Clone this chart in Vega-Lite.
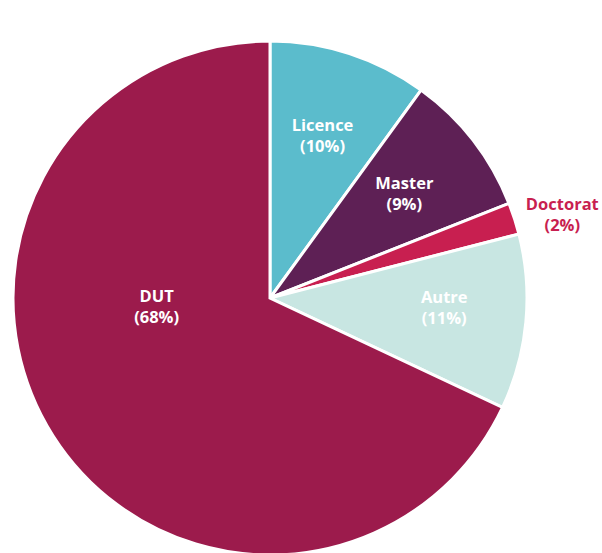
{
  "$schema": "https://vega.github.io/schema/vega-lite/v6.json",
  "width": 540,
  "height": 596,
  "padding": {"left": 0, "top": 0, "right": 62, "bottom": 0},
  "autosize": "none",
  "background": "white",
  "view": {"stroke": null},
  "data": {
    "values": [
      {"categorie": "Licence", "ordre": 1, "pct": 10, "label": "Licence\n(10%)"},
      {"categorie": "Master", "ordre": 2, "pct": 9, "label": "Master\n(9%)"},
      {"categorie": "Doctorat", "ordre": 3, "pct": 2, "label": "Doctorat\n(2%)"},
      {"categorie": "Autre", "ordre": 4, "pct": 11, "label": "Autre\n(11%)"},
      {"categorie": "DUT", "ordre": 5, "pct": 68, "label": "DUT\n(68%)"}
    ]
  },
  "encoding": {
    "theta": {"field": "pct", "type": "quantitative", "stack": true},
    "order": {"field": "ordre", "type": "quantitative", "sort": "ascending"},
    "color": {
      "field": "categorie",
      "type": "nominal",
      "scale": {
        "domain": ["Licence", "Master", "Doctorat", "Autre", "DUT"],
        "range": ["#5BBCCC", "#5E2055", "#C81F50", "#C8E6E2", "#9C1B4C"]
      },
      "legend": null
    }
  },
  "layer": [
    {
      "mark": {"type": "arc", "outerRadius": 257, "stroke": "white", "strokeWidth": 3}
    },
    {
      "mark": {"type": "text", "radius": 170, "dy": -10, "font": "Open Sans", "fontWeight": "bold", "fontSize": 16.5, "lineBreak": "\n", "lineHeight": 21, "baseline": "middle"},
      "encoding": {
        "text": {"condition": {"test": "indexof(['Licence','Master'], datum.categorie) >= 0", "field": "label"}, "value": ""},
        "color": {"value": "white"}
      }
    },
    {
      "mark": {"type": "text", "radius": 172, "dx": 3, "dy": -16, "font": "Open Sans", "fontWeight": "bold", "fontSize": 16.5, "lineBreak": "\n", "lineHeight": 21, "baseline": "middle"},
      "encoding": {
        "text": {"condition": {"test": "datum.categorie == 'Autre'", "field": "label"}, "value": ""},
        "color": {"value": "white"}
      }
    },
    {
      "mark": {"type": "text", "radius": 113, "dx": -18, "dy": -62, "font": "Open Sans", "fontWeight": "bold", "fontSize": 16.5, "lineBreak": "\n", "lineHeight": 21, "baseline": "middle"},
      "encoding": {
        "text": {"condition": {"test": "datum.categorie == 'DUT'", "field": "label"}, "value": ""},
        "color": {"value": "white"}
      }
    },
    {
      "mark": {"type": "text", "radius": 300, "dx": 7, "dy": 0, "font": "Open Sans", "fontWeight": "bold", "fontSize": 16.5, "lineBreak": "\n", "lineHeight": 21, "baseline": "middle"},
      "encoding": {
        "text": {"condition": {"test": "datum.categorie == 'Doctorat'", "field": "label"}, "value": ""},
        "color": {"value": "#C81F50"}
      }
    }
  ]
}
